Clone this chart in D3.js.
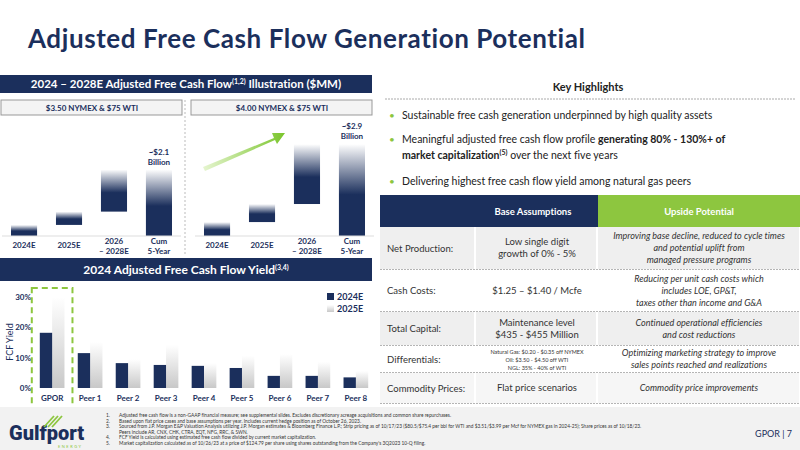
<!DOCTYPE html>
<html><head><meta charset="utf-8">
<script src="https://cdn.jsdelivr.net/npm/d3@7"></script>
<style>body{margin:0;background:#fff}svg{font-family:"Lato","Open Sans",sans-serif;font-variant-ligatures:none}</style>
</head><body><svg id="c" width="800" height="450"></svg>
<script>
const navy = "#1b2f5c", green = "#8dc63f";
// waterfall data ($MM)
const wfCats = [["2024E"], ["2025E"], ["2026", "– 2028E"], ["Cum", "5-Year"]];
const wfLow = [350, 420, 1330];
const wfHigh = [440, 570, 1890];
const wfTotals = ["~$2.1", "~$2.9"];
// yield data
const peers = ["GPOR", "Peer 1", "Peer 2", "Peer 3", "Peer 4", "Peer 5", "Peer 6", "Peer 7", "Peer 8"];
const y2024 = [18.2, 11.5, 8.2, 7.6, 7.3, 6.6, 4.0, 4.0, 3.5];
const y2025 = [30.0, 15.2, 9.5, 14.2, 8.2, 10.6, 11.2, 8.6, 5.6];
const yTicks = [0, 10, 20, 30];
const bullets = [
  [["Sustainable free cash generation underpinned by high quality assets", false]],
  [["Meaningful adjusted free cash flow profile ", false], ["generating 80% - 130%+ of", true]],
  [["market capitalization", true], ["(5)", true, true], [" over the next five years", false]],
  [["Delivering highest free cash flow yield among natural gas peers", false]]
];
const rowLabels = ["Net Production:", "Cash Costs:", "Total Capital:", "Differentials:", "Commodity Prices:"];
const baseVals = [["Low single digit", "growth of 0% - 5%"], ["$1.25 – $1.40 / Mcfe"], ["Maintenance level", "$435 - $455 Million"],
  ["Natural Gas: $0.20 - $0.35 off NYMEX", "Oil: $3.50 - $4.50 off WTI", "NGL: 35% - 40% of WTI"], ["Flat price scenarios"]];
const upside = [["Improving base decline, reduced to cycle times", "and potential uplift from", "managed pressure programs"],
  ["Reducing per unit cash costs which", "includes LOE, GP&T,", "taxes other than income and G&A"],
  ["Continued operational efficiencies", "and cost reductions"],
  ["Optimizing marketing strategy to improve", "sales points reached and realizations"], ["Commodity price improvements"]];
const footnotes = [
  "Adjusted free cash flow is a non-GAAP financial measure; see supplemental slides. Excludes discretionary acreage acquisitions and common share repurchases.",
  "Based upon flat price cases and base assumptions per year. Includes current hedge position as of October 26, 2023.",
  "Sourced from J.P. Morgan E&P Valuation Analysis utilizing J.P. Morgan estimates & Bloomberg Finance L.P.; Strip pricing as of 10/17/23 ($80.5/$75.4 per bbl for WTI and $3.51/$3.99 per Mcf for NYMEX gas in 2024-25); Share prices as of 10/18/23.",
  "Peers include AR, CNX, CHK, CTRA, EQT, NFG, RRC, & SWN.",
  "FCF Yield is calculated using estimated free cash flow divided by current market capitalization.",
  "Market capitalization calculated as of 10/26/23 at a price of $124.79 per share using shares outstanding from the Company's 3Q2023 10-Q filing."
];

const svg = d3.select("#c");
const defs = svg.append("defs");
function grad(id, stops) {
  const g = defs.append("linearGradient").attr("id", id).attr("x1", 0).attr("y1", 1).attr("x2", 0).attr("y2", 0);
  stops.forEach(s => g.append("stop").attr("offset", s[0]).attr("stop-color", s[1]));
}
grad("gNavy", [[0, navy], [0.45, navy], [1, "#ffffff"]]);
grad("gGray", [[0, "#c8c8c8"], [1, "#ffffff"]]);
const ag = defs.append("linearGradient").attr("id", "gArrow");
ag.append("stop").attr("offset", 0).attr("stop-color", "#e6f5d0");
ag.append("stop").attr("offset", 1).attr("stop-color", "#7ac52c");

// title
svg.append("text").attr("x", 28).attr("y", 48).attr("font-size", 26).attr("font-weight", 700).attr("fill", navy)
  .attr("textLength", 557).text("Adjusted Free Cash Flow Generation Potential");

// left header
svg.append("rect").attr("x", 0).attr("y", 75).attr("width", 372).attr("height", 18).attr("fill", navy);
const h1 = svg.append("text").attr("x", 186).attr("y", 88).attr("text-anchor", "middle").attr("fill", "#fff")
  .attr("font-size", 11.5).attr("font-weight", 700);
h1.append("tspan").text("2024 – 2028E Adjusted Free Cash Flow");
h1.append("tspan").attr("font-size", 7).attr("dy", -4).text("(1,2)");
h1.append("tspan").attr("dy", 4).text(" Illustration ($MM)");

const priceLabels = ["$3.50 NYMEX & $75 WTI", "$4.00 NYMEX & $75 WTI"];
[0, 190].forEach((x0, i) => {
  svg.append("rect").attr("x", x0 + 1).attr("y", 100).attr("width", 181).attr("height", 15)
    .attr("fill", "#f4f4f4").attr("stroke", "#999");
  svg.append("text").attr("x", x0 + 92).attr("y", 111).attr("text-anchor", "middle").attr("font-size", 8)
    .attr("font-weight", 700).attr("fill", navy).text(priceLabels[i]);
});
svg.append("line").attr("x1", 185).attr("x2", 185).attr("y1", 100).attr("y2", 255)
  .attr("stroke", "#bbb").attr("stroke-dasharray", "2,2");

const wy = d3.scaleLinear().domain([0, 3000]).range([236, 141]);
[[0, wfLow], [193, wfHigh]].forEach(([x0, vals], k) => {
  const wx = d3.scaleBand().domain(d3.range(4)).range([x0 + 2, x0 + 181]).paddingInner(0.42).paddingOuter(0.2);
  let cum = 0;
  const bars = vals.map(v => { const b = { lo: cum, hi: cum + v }; cum += v; return b; });
  bars.push({ lo: 0, hi: cum });
  const g = svg.append("g");
  g.selectAll("rect").data(bars).join("rect")
    .attr("x", (d, i) => wx(i)).attr("width", wx.bandwidth())
    .attr("y", d => wy(d.hi)).attr("height", d => wy(d.lo) - wy(d.hi)).attr("fill", "url(#gNavy)");
  g.append("line").attr("x1", x0 + 2).attr("x2", x0 + 181).attr("y1", 236).attr("y2", 236).attr("stroke", "#ddd");
  wfCats.forEach((c, i) => {
    c.forEach((l, j) => g.append("text").attr("x", wx(i) + wx.bandwidth() / 2)
      .attr("y", c.length === 1 ? 248 : 244 + j * 10).attr("text-anchor", "middle").attr("font-size", 8)
      .attr("font-weight", 700).attr("fill", navy).text(l));
  });
  const cx = wx(3) + wx.bandwidth() / 2;
  g.append("text").attr("x", cx).attr("y", wy(cum) - 15).attr("text-anchor", "middle").attr("font-size", 8)
    .attr("font-weight", 700).attr("fill", navy).text(wfTotals[k]);
  g.append("text").attr("x", cx).attr("y", wy(cum) - 5).attr("text-anchor", "middle").attr("font-size", 8)
    .attr("font-weight", 700).attr("fill", navy).text("Billion");
});
// green arrow
svg.append("polygon").attr("points", "203,167 274,138 272,133 285,133 277,144 275,140 205,171")
  .attr("fill", "url(#gArrow)");

// yield header
svg.append("rect").attr("x", 0).attr("y", 258).attr("width", 372).attr("height", 23).attr("fill", navy);
const h2 = svg.append("text").attr("x", 186).attr("y", 274).attr("text-anchor", "middle").attr("fill", "#fff")
  .attr("font-size", 12).attr("font-weight", 700);
h2.append("tspan").text("2024 Adjusted Free Cash Flow Yield");
h2.append("tspan").attr("font-size", 7).attr("dy", -4).text("(3,4)");

const by = d3.scaleLinear().domain([0, 30]).range([388, 297]);
const bx = d3.scaleBand().domain(peers).range([36, 372]).paddingInner(0.35).paddingOuter(0.1);
const sub = d3.scaleBand().domain([0, 1]).range([0, bx.bandwidth()]);
const yg = svg.append("g");
yTicks.forEach(t => yg.append("text").attr("x", 31).attr("y", by(t) + 3).attr("text-anchor", "end")
  .attr("font-size", 8).attr("font-weight", 700).attr("fill", navy).text(t + "%"));
svg.append("text").attr("transform", "translate(13,342) rotate(-90)").attr("text-anchor", "middle")
  .attr("font-size", 9).attr("fill", navy).text("FCF Yield");
svg.append("g").selectAll("rect").data(y2025).join("rect")
  .attr("x", (d, i) => bx(peers[i]) + sub(1)).attr("width", sub.bandwidth())
  .attr("y", d => by(d)).attr("height", d => by(0) - by(d)).attr("fill", "url(#gGray)");
svg.append("g").selectAll("rect").data(y2024).join("rect")
  .attr("x", (d, i) => bx(peers[i]) + sub(0)).attr("width", sub.bandwidth())
  .attr("y", d => by(d)).attr("height", d => by(0) - by(d)).attr("fill", navy);
peers.forEach(p => svg.append("text").attr("x", bx(p) + bx.bandwidth() / 2).attr("y", 401).attr("text-anchor", "middle")
  .attr("font-size", 8).attr("font-weight", 700).attr("fill", navy).text(p));
svg.append("rect").attr("x", bx("GPOR") - 8).attr("y", 288).attr("width", bx.bandwidth() + 16).attr("height", 122)
  .attr("fill", "none").attr("stroke", green).attr("stroke-width", 2).attr("stroke-dasharray", "6,4");
[["2024E", navy], ["2025E", "url(#gGray)"]].forEach(([l, c], i) => {
  svg.append("rect").attr("x", 327).attr("y", 293 + i * 12).attr("width", 7).attr("height", 7).attr("fill", c);
  svg.append("text").attr("x", 337).attr("y", 300 + i * 12).attr("font-size", 9).attr("font-weight", 700)
    .attr("fill", navy).text(l);
});

// key highlights
svg.append("text").attr("x", 588).attr("y", 91).attr("text-anchor", "middle").attr("font-size", 11)
  .attr("font-weight", 700).attr("fill", "#222").text("Key Highlights");
svg.append("line").attr("x1", 385).attr("x2", 795).attr("y1", 99).attr("y2", 99).attr("stroke", "#aaa").attr("stroke-dasharray", "2,1");
const bY = [119, 143, 159, 185];
bullets.forEach((parts, i) => {
  if (i !== 2) svg.append("text").attr("x", 389).attr("y", bY[i]).attr("font-size", 10).attr("fill", green).text("•");
  const t = svg.append("text").attr("x", 402).attr("y", bY[i]).attr("font-size", 10.5).attr("fill", "#222");
  parts.forEach(p => {
    const s = t.append("tspan").attr("font-weight", p[1] ? 700 : 400).text(p[0]);
    if (p[2]) s.attr("font-size", 7).attr("dy", -4);
    else if (parts.some(q => q[2]) && p !== parts[0]) s.attr("dy", 4);
  });
});

// table
svg.append("rect").attr("x", 380).attr("y", 195).attr("width", 218).attr("height", 32).attr("fill", navy);
svg.append("rect").attr("x", 598).attr("y", 195).attr("width", 202).attr("height", 32).attr("fill", green);
svg.append("text").attr("x", 533).attr("y", 215).attr("text-anchor", "middle").attr("font-size", 9.5)
  .attr("font-weight", 700).attr("fill", "#fff").text("Base Assumptions");
svg.append("text").attr("x", 699).attr("y", 215).attr("text-anchor", "middle").attr("font-size", 9.5)
  .attr("font-weight", 700).attr("fill", "#fff").text("Upside Potential");
const rowTop = [227, 270, 312, 346, 373], rowBot = [269, 311, 345, 372, 403];
const fills = ["#efefef", "#ffffff", "#efefef", "#ffffff", "#f6f6f6"];
rowLabels.forEach((l, i) => {
  const t0 = rowTop[i], h = rowBot[i] - t0, mid = t0 + h / 2;
  [[380, 95], [476, 121], [598, 202]].forEach(([x, w]) => svg.append("rect").attr("x", x).attr("y", t0)
    .attr("width", w - 1).attr("height", h).attr("fill", fills[i]));
  svg.append("line").attr("x1", 380).attr("x2", 800).attr("y1", rowBot[i] + 0.5).attr("y2", rowBot[i] + 0.5)
    .attr("stroke", "#b5b5b5").attr("stroke-dasharray", "2,1");
  svg.append("text").attr("x", 387).attr("y", mid + 3.5).attr("font-size", 9.5).attr("fill", "#333").text(l);
  const bv = baseVals[i], small = bv.length === 3, lh = small ? 8 : 12;
  bv.forEach((s, j) => svg.append("text").attr("x", 537).attr("y", mid + 3 + (j - (bv.length - 1) / 2) * lh)
    .attr("text-anchor", "middle").attr("font-size", small ? 5.5 : 9.5).attr("fill", "#333").text(s));
  upside[i].forEach((s, j) => svg.append("text").attr("x", 699).attr("y", mid + 3 + (j - (upside[i].length - 1) / 2) * 12)
    .attr("text-anchor", "middle").attr("font-size", 9).attr("font-style", "italic").attr("fill", "#333").text(s));
});

// footer
svg.append("rect").attr("x", 0).attr("y", 407).attr("width", 800).attr("height", 43).attr("fill", "#f2f2f2");
svg.append("text").attr("x", 9).attr("y", 440).attr("font-size", 20).attr("font-weight", 900).attr("fill", navy)
  .attr("font-family", "Roboto").text("Gulfport");
svg.append("text").attr("x", 58).attr("y", 448).attr("font-size", 4).attr("letter-spacing", 1.5).attr("fill", green).text("ENERGY");
[0, 4, 8].forEach(k => svg.append("line").attr("x1", 44 + k).attr("y1", 427).attr("x2", 54 + k).attr("y2", 416)
  .attr("stroke", green).attr("stroke-width", 1.8));
const fnNums = ["1.", "2.", "3.", "", "4.", "5."];
footnotes.forEach((f, i) => {
  const y = 417 + i * 5.6;
  svg.append("text").attr("x", 106).attr("y", y).attr("font-size", 4.8).attr("fill", "#333").text(fnNums[i]);
  svg.append("text").attr("x", 119).attr("y", y).attr("font-size", 4.8).attr("fill", "#333").text(f);
});
svg.append("text").attr("x", 792).attr("y", 437).attr("text-anchor", "end").attr("font-size", 9).attr("fill", navy).text("GPOR | 7");
</script></body></html>
